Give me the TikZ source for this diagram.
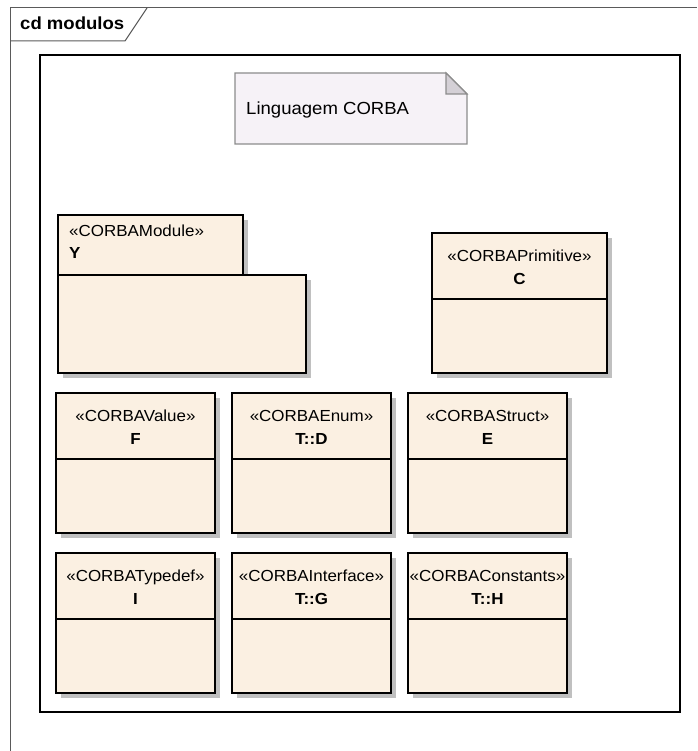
\documentclass[tikz,border=0pt]{standalone}
\usepackage{fontspec}
\setmainfont[FakeStretch=1.06]{Liberation Sans}
\definecolor{classfill}{HTML}{FBF0E2}
\definecolor{shadowgray}{HTML}{C0C0C0}
\definecolor{notefill}{HTML}{F6F2F7}
\definecolor{noteline}{HTML}{8C8C8C}
\definecolor{notefold}{HTML}{D4D0D6}
\definecolor{framegray}{HTML}{5A5A5A}
\newcommand\stfont{\fontsize{16}{18}\selectfont}
\newcommand\notefont{\fontsize{17.5}{20}\selectfont}
\newcommand\headfont{\fontsize{17.5}{20}\selectfont\bfseries}
\tikzset{
  edge/.style={draw=black, line width=1.3pt},
  cls/.style={edge, fill=classfill, inner sep=0pt, outer sep=0pt},
  shade/.style={fill=shadowgray},
  frameline/.style={draw=framegray, line width=1pt},
  txt/.style={inner sep=0pt, font=\stfont},
}
% a class box: name, left, top, width, stereotype, title
\newcommand\classbox[6]{%
  \fill[shade] (#2+5,#3+5) rectangle ++(#4,140);
  \node[cls, minimum width=#4pt, minimum height=140pt, anchor=north west] (#1) at (#2,#3) {};
  \draw[edge] ([yshift=-66pt]#1.north west) -- ([yshift=-66pt]#1.north east);
  \node[txt, anchor=base] (#1-st) at ([yshift=-28pt]#1.north) {«#5»};
  \node[txt, anchor=base, font=\stfont\bfseries] (#1-nm) at ([yshift=-51pt]#1.north) {#6};
}
\begin{document}
\begin{tikzpicture}[x=1pt, y=-1pt]
\useasboundingbox (0,0) rectangle (697,751);

% diagram frame and its name tab
\draw[frameline] (10,751) -- (10,8) -- (697,8);
\draw[frameline] (10,41) -- (125,41) -- (147,8);
\node[inner sep=0pt, anchor=base west, font=\headfont] (title) at (20,30) {cd modulos};

% package boundary
\draw[edge, line width=1.5pt] (40,55) rectangle (680,712);

% note
\draw[draw=noteline, line width=1.2pt, fill=notefill]
  (235,73) -- (446,73) -- (467,94) -- (467,144) -- (235,144) -- cycle;
\draw[draw=noteline, line width=1.2pt, fill=notefold] (446,73) -- (446,94) -- (467,94) -- cycle;
\node[inner sep=0pt, anchor=base west, font=\notefont] (note) at (246,115) {Linguagem CORBA};

% module Y (folder shape)
\fill[shade] (63,220) rectangle (248,280);
\fill[shade] (63,280) rectangle (311,378);
\node[cls, minimum width=185pt, minimum height=60pt, anchor=north west] (Ytab) at (58,215) {};
\node[cls, minimum width=248pt, minimum height=98pt, anchor=north west] (Y) at (58,275) {};
\node[txt, anchor=base west] (Y-st) at (69,236) {«CORBAModule»};
\node[txt, anchor=base west, font=\stfont\bfseries] (Y-nm) at (69,258) {Y};

% classes
\classbox{C}{432}{233}{175}{CORBAPrimitive}{C}
\classbox{F}{56}{393}{159}{CORBAValue}{F}
\classbox{D}{232}{393}{159}{CORBAEnum}{T::D}
\classbox{E}{408}{393}{159}{CORBAStruct}{E}
\classbox{I}{56}{553}{159}{CORBATypedef}{I}
\classbox{G}{232}{553}{159}{CORBAInterface}{T::G}
\classbox{H}{408}{553}{159}{CORBAConstants}{T::H}
\end{tikzpicture}
\end{document}
